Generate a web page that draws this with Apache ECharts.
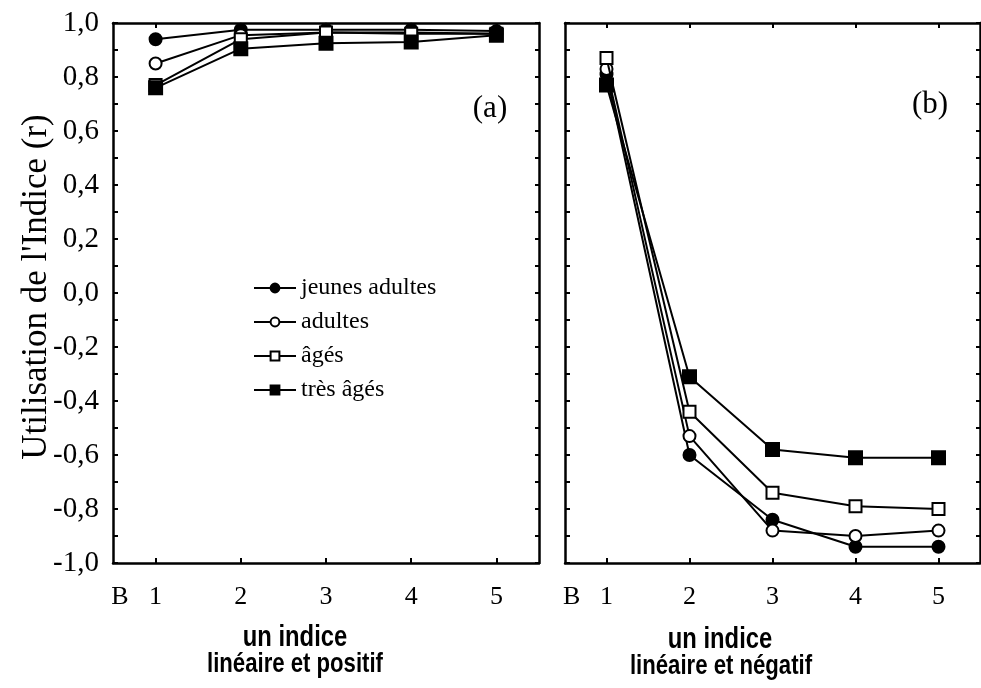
<!DOCTYPE html>
<html>
<head>
<meta charset="utf-8">
<script src="https://cdn.jsdelivr.net/npm/echarts@6/dist/echarts.min.js"></script>
<style>
html,body{margin:0;padding:0;background:#fff;}
#chart{width:981px;height:688px;}
</style>
</head>
<body>
<div id="chart"></div>
<script>
// ---- data ----
const xValues = [1, 2, 3, 4, 5];
const xLabelValues = [0.58, 1, 2, 3, 4, 5];
const seriesNames = ['jeunes adultes', 'adultes', 'âgés', 'très âgés'];

const panelA_jeunes = [0.94, 0.975, 0.975, 0.975, 0.97];
const panelA_adultes = [0.85, 0.955, 0.965, 0.965, 0.96];
const panelA_ages = [0.77, 0.94, 0.965, 0.96, 0.96];
const panelA_tresAges = [0.76, 0.905, 0.925, 0.93, 0.955];

const panelB_jeunes = [0.81, -0.60, -0.84, -0.94, -0.94];
const panelB_adultes = [0.83, -0.53, -0.88, -0.90, -0.88];
const panelB_ages = [0.87, -0.44, -0.74, -0.79, -0.80];
const panelB_tresAges = [0.77, -0.31, -0.58, -0.61, -0.61];

const panelTitles = ['(a)', '(b)'];
const xNameTop = 'un indice';
const xNameBottom = ['linéaire et positif', 'linéaire et négatif'];
const yName = "Utilisation de l'Indice (r)";

// ---- styles ----
const serif = '"Liberation Serif", "DejaVu Serif", serif';
const sans = '"Liberation Sans", Arial, sans-serif';
const markerStyles = [
  {symbol: 'circle', fill: '#000', size: 12},
  {symbol: 'circle', fill: '#fff', size: 12},
  {symbol: 'rect', fill: '#fff', size: 12},
  {symbol: 'rect', fill: '#000', size: 13}
];

const grids = [
  {left: 113, top: 23, width: 426, height: 540},
  {left: 565, top: 23, width: 415, height: 540}
];

function pair(vals) { return xValues.map((x, i) => [x, vals[i]]); }

const xAxes = [];
const yAxes = [];
grids.forEach((g, gi) => {
  xAxes.push({
    gridIndex: gi, type: 'value', position: 'bottom', min: 0.5, max: 5.5,
    axisLine: {show: true, onZero: false, lineStyle: {color: '#000', width: 2.5}},
    axisTick: {show: true, inside: true, length: 5, customValues: xValues, lineStyle: {color: '#000', width: 2}},
    axisLabel: {
      show: true, customValues: xLabelValues, margin: 21, color: '#000',
      fontFamily: serif, fontSize: 26,
      formatter: v => (v < 1 ? 'B' : String(v))
    },
    splitLine: {show: false}
  });
  xAxes.push({
    gridIndex: gi, type: 'value', position: 'top', min: 0.5, max: 5.5,
    axisLine: {show: true, onZero: false, lineStyle: {color: '#000', width: 2.5}},
    axisTick: {show: true, inside: true, length: 5, customValues: xValues, lineStyle: {color: '#000', width: 2}},
    axisLabel: {show: false},
    splitLine: {show: false}
  });
  yAxes.push({
    gridIndex: gi, type: 'value', position: 'left', min: -1, max: 1, interval: 0.1,
    axisLine: {show: true, onZero: false, lineStyle: {color: '#000', width: 2.5}},
    axisTick: {show: true, inside: true, length: 5, lineStyle: {color: '#000', width: 2}},
    axisLabel: {
      show: gi === 0, color: '#000', fontFamily: serif, fontSize: 29, margin: 14,
      formatter: v => {
        const t = Math.round(v * 10);
        if (Math.abs(t) % 2 !== 0) return '';
        return (t / 10).toFixed(1).replace('.', ',');
      }
    },
    splitLine: {show: false}
  });
  yAxes.push({
    gridIndex: gi, type: 'value', position: 'right', min: -1, max: 1, interval: 0.1,
    axisLine: {show: true, onZero: false, lineStyle: {color: '#000', width: 2.5}},
    axisTick: {show: true, inside: true, length: 4, lineStyle: {color: '#000', width: 2}},
    axisLabel: {show: false},
    splitLine: {show: false}
  });
});

const panelData = [
  [panelA_jeunes, panelA_adultes, panelA_ages, panelA_tresAges],
  [panelB_jeunes, panelB_adultes, panelB_ages, panelB_tresAges]
];

const series = [];
panelData.forEach((arrs, gi) => {
  arrs.forEach((vals, si) => {
    const m = markerStyles[si];
    series.push({
      name: seriesNames[si], type: 'line',
      xAxisIndex: gi * 2, yAxisIndex: gi * 2,
      data: pair(vals),
      symbol: m.symbol, symbolSize: m.size, showSymbol: true,
      lineStyle: {color: '#000', width: 2},
      itemStyle: {color: m.fill, borderColor: '#000', borderWidth: 2},
      emphasis: {disabled: true},
      animation: false, z: 2 + si
    });
  });
});

function txt(text, x, y, font, extra) {
  return Object.assign({
    type: 'text', x: x, y: y, silent: true,
    style: {text: text, font: font, fill: '#000', align: 'center', verticalAlign: 'middle'}
  }, extra || {});
}

const option = {
  backgroundColor: '#fff',
  animation: false,
  grid: grids,
  xAxis: xAxes,
  yAxis: yAxes,
  legend: {
    data: seriesNames, orient: 'vertical', left: 248, top: 271,
    itemWidth: 42, itemHeight: 11, itemGap: 10,
    textStyle: {fontFamily: serif, fontSize: 24, color: '#000'},
    selectedMode: false
  },
  graphic: [
    txt(panelTitles[0], 490, 109, '31px ' + serif),
    txt(panelTitles[1], 930, 105, '31px ' + serif),
    txt(yName, 37, 287, '35px ' + serif, {rotation: Math.PI / 2}),
    txt(xNameTop, 295, 638, 'bold 29px ' + sans, {scaleX: 0.82}),
    txt(xNameBottom[0], 295, 665, 'bold 27px ' + sans, {scaleX: 0.82}),
    txt(xNameTop, 720, 640, 'bold 29px ' + sans, {scaleX: 0.82}),
    txt(xNameBottom[1], 721, 667, 'bold 27px ' + sans, {scaleX: 0.82})
  ],
  series: series
};

const chart = echarts.init(document.getElementById('chart'), null, {renderer: 'canvas'});
chart.setOption(option);
</script>
</body>
</html>
